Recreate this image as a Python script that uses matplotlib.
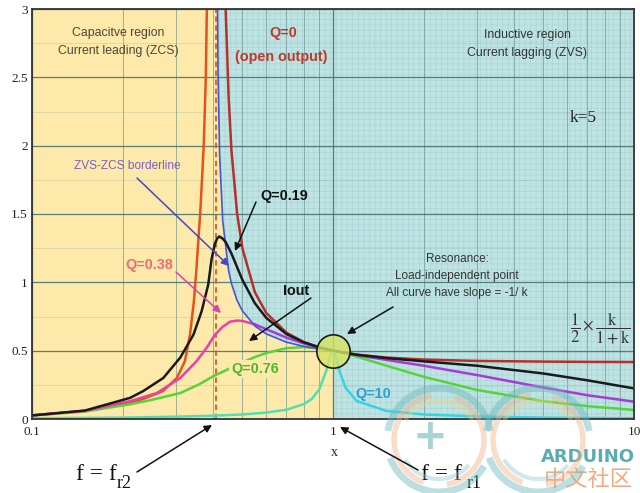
import numpy as np
import matplotlib
matplotlib.use("Agg")
import matplotlib.pyplot as plt
from matplotlib.ticker import LogLocator, MultipleLocator, NullFormatter
from matplotlib.patches import Arc

plt.rcParams['hatch.linewidth'] = 0.4
plt.rcParams['mathtext.fontset'] = 'stix'

# ---------------- data ----------------
# Q = 0 (open output): two branches around the pole at fr2
x_q0_left = [0.1, 0.15, 0.212, 0.234, 0.272, 0.303, 0.322, 0.335, 0.345, 0.352, 0.358,
             0.362, 0.372, 0.378, 0.381, 0.384]
m_q0_left = [0.027, 0.06, 0.117, 0.146, 0.204, 0.30, 0.423, 0.62, 0.861, 1.105, 1.35,
             1.5, 2.0, 2.5, 3.0, 3.3]
x_q0_right = [0.43, 0.44, 0.45, 0.46, 0.48, 0.5, 0.55, 0.6, 0.7, 0.8, 0.9, 1.0,
              1.2, 1.5, 2, 3, 5, 7, 10]
m_q0_right = [4.23, 2.996, 2.355, 1.962, 1.507, 1.25, 0.928, 0.776, 0.632, 0.563,
              0.525, 0.5, 0.471, 0.45, 0.435, 0.425, 0.42, 0.418, 0.417]

# ZVS-ZCS borderline
x_border = [0.412, 0.415, 0.42, 0.43, 0.45, 0.46, 0.48, 0.5, 0.55, 0.6, 0.7, 0.8, 0.9, 1.0]
m_border = [3.39, 2.54, 1.943, 1.454, 1.085, 0.99, 0.868, 0.791, 0.681, 0.623, 0.562,
            0.531, 0.512, 0.5]

# Q = 0.19
x_q019 = [0.1, 0.15, 0.212, 0.234, 0.273, 0.311, 0.344, 0.366, 0.385, 0.395, 0.405,
          0.412, 0.419, 0.43, 0.44, 0.46, 0.5, 0.55, 0.6, 0.7, 0.8, 0.9, 1, 1.2, 1.5,
          2, 3, 5, 7, 10]
m_q019 = [0.026, 0.062, 0.155, 0.204, 0.30, 0.45, 0.618, 0.788, 0.983, 1.17, 1.28,
          1.32, 1.336, 1.32, 1.295, 1.21, 1.018, 0.847, 0.74, 0.622, 0.561, 0.524, 0.5,
          0.47, 0.446, 0.422, 0.39, 0.333, 0.283, 0.224]

# Q = 0.38
x_q038 = [0.1, 0.15, 0.212, 0.26, 0.311, 0.352, 0.38, 0.406, 0.43, 0.455, 0.48, 0.5,
          0.55, 0.6, 0.7, 0.8, 0.9, 1, 1.2, 1.5, 2, 3, 5, 7, 10]
m_q038 = [0.026, 0.06, 0.131, 0.19, 0.30, 0.423, 0.52, 0.618, 0.675, 0.712, 0.72, 0.718,
          0.692, 0.657, 0.596, 0.553, 0.523, 0.5, 0.467, 0.433, 0.39, 0.322, 0.23,
          0.174, 0.127]

# Q = 0.76
x_q076 = [0.1, 0.15, 0.212, 0.25, 0.311, 0.36, 0.4, 0.44, 0.5, 0.55, 0.6, 0.7, 0.8,
          0.9, 1, 1.2, 1.5, 2, 3, 5, 7, 10]
m_q076 = [0.025, 0.055, 0.108, 0.14, 0.19, 0.255, 0.313, 0.356, 0.414, 0.453,
          0.483, 0.518, 0.526, 0.517, 0.5, 0.456, 0.391, 0.309, 0.213, 0.13, 0.094, 0.066]

# Q = 10
x_q10 = [0.1, 0.2, 0.3, 0.4, 0.5, 0.6, 0.7, 0.8, 0.85, 0.9, 0.95, 0.98, 1, 1.02, 1.05,
         1.1, 1.2, 1.5, 2, 3, 5, 10]
m_q10 = [0.005, 0.01, 0.017, 0.024, 0.033, 0.047, 0.068, 0.109, 0.147, 0.216, 0.353,
         0.467, 0.5, 0.462, 0.354, 0.23, 0.131, 0.06, 0.033, 0.019, 0.01, 0.005]

fr2 = 0.408          # f = f_r2 (dashed line)
resonance = (1.0, 0.5)

x_ticks = [0.1, 1, 10]
x_tick_labels = ['0.1', '1', '10']
y_ticks = [0, 0.5, 1, 1.5, 2, 2.5, 3]
y_tick_labels = ['0', '0.5', '1', '1.5', '2', '2.5', '3']

# ---------------- figure ----------------
W, H = 640, 493
fig = plt.figure(figsize=(W / 100, H / 100), dpi=100)
fig.patch.set_facecolor('white')
ax = fig.add_axes([32 / W, 1 - 419 / H, (634 - 32) / W, (419 - 9) / H])
ax.set_xscale('log')
ax.set_xlim(0.1, 10)
ax.set_ylim(0, 3)
ax.set_facecolor('#fde9a9')

# inductive region (right of the borderline) - graph-paper look
xb = np.array(x_border, dtype=float)
mb = np.array(m_border, dtype=float)
ax.fill(np.r_[xb, 1.0, 10.0, 10.0], np.r_[mb, 0.0, 0.0, 3.5],
        facecolor='#bfe3e3', edgecolor='#a6d2d3', hatch='+++', linewidth=0, zorder=0.2)

# grid
ax.set_xticks(x_ticks, x_tick_labels)
ax.set_yticks(y_ticks, y_tick_labels)
ax.xaxis.set_minor_locator(LogLocator(base=10, subs=range(2, 10)))
ax.xaxis.set_minor_formatter(NullFormatter())
ax.yaxis.set_minor_locator(MultipleLocator(0.25))
ax.grid(which='major', color='#3f6d68', lw=0.9, alpha=0.85)
ax.grid(which='minor', axis='x', color='#5f8c86', lw=0.7, alpha=0.6)
ax.grid(which='minor', axis='y', color='#7fa6a0', lw=0.5, alpha=0.35)
ax.tick_params(which='both', length=0)
ax.tick_params(axis='x', pad=5)
ax.tick_params(axis='y', pad=3)
for lab in ax.get_xticklabels() + ax.get_yticklabels():
    lab.set_fontfamily('Liberation Serif')
    lab.set_fontsize(9.5)
    lab.set_color('#222222')
for sp in ax.spines.values():
    sp.set_color('#333333')
    sp.set_linewidth(1.3)

# vertical dashed fr2 line
ax.axvline(fr2, color='#e0562c', lw=1.3, ls=(0, (3, 2)), zorder=1.8)

lw = 1.8
# Q=0
ax.plot(x_q0_left, m_q0_left, color='#e2531e', lw=lw, zorder=2)
ax.plot(x_q0_right, m_q0_right, color='#b5302a', lw=lw, zorder=2)
# Q=10
xq10 = np.array(x_q10); mq10 = np.array(m_q10)
ax.plot(xq10[xq10 <= 1], mq10[xq10 <= 1], color='#4ee0b4', lw=lw, zorder=2.1)
ax.plot(xq10[xq10 >= 1], mq10[xq10 >= 1], color='#36d3e2', lw=lw, zorder=2.1)
# Q=0.76
ax.plot(x_q076, m_q076, color='#55d43a', lw=lw, zorder=2.2)
# Q=0.38
xq38 = np.array(x_q038); mq38 = np.array(m_q038)
ax.plot(xq38[xq38 <= 0.55], mq38[xq38 <= 0.55], color='#ea40a8', lw=lw, zorder=2.3)
ax.plot(xq38[xq38 >= 0.55], mq38[xq38 >= 0.55], color='#a83ad8', lw=lw, zorder=2.3)
# borderline
ax.plot(x_border, m_border, color='#4257d6', lw=1.2, zorder=2.4)
# Q=0.19
ax.plot(x_q019, m_q019, color='#1a1a1a', lw=lw, zorder=2.5)

# resonance circle
ax.plot([resonance[0]], [resonance[1]], 'o', ms=24, mfc=(0.84, 0.89, 0.38, 0.8),
        mec='#1a1a1a', mew=1.2, zorder=5)

# ---------------- annotations (pixel positions, top-left origin) ----------------
SANS = ['Liberation Sans', 'DejaVu Sans']
SERIF = ['Liberation Serif', 'DejaVu Serif']

def txt(px, py, s, **kw):
    kw.setdefault('ha', 'center')
    kw.setdefault('va', 'center')
    kw.setdefault('family', SANS)
    fig.text(px / W, 1 - py / H, s, **kw)

def arrow(p0, p1, color='#111111', lw=1.1):
    fig.add_artist(matplotlib.patches.FancyArrowPatch(
        (p0[0] / W, 1 - p0[1] / H), (p1[0] / W, 1 - p1[1] / H),
        transform=fig.transFigure, arrowstyle='-|>', mutation_scale=11,
        color=color, lw=lw, shrinkA=0, shrinkB=0, zorder=10))

txt(118, 33, 'Capacitve region', fontsize=8.8, color='#4b4636')
txt(118, 51, 'Current leading (ZCS)', fontsize=8.8, color='#4b4636')
txt(283, 33, 'Q=0', fontsize=10.4, color='#c0392b', fontweight='bold')
txt(281, 57, '(open output)', fontsize=10.4, color='#c0392b', fontweight='bold')
txt(527, 35, 'Inductive region', fontsize=8.8, color='#333333')
txt(527, 53, 'Current lagging (ZVS)', fontsize=8.8, color='#333333')
txt(583, 118, 'k=5', fontsize=12.5, color='#222222', family=SERIF)

txt(127, 166, 'ZVS-ZCS borderline', fontsize=8.6, color='#7d5fc4')
arrow((137, 178), (229, 266), color='#4b44c8')
txt(284, 196, 'Q=0.19', fontsize=10.4, color='#111111', fontweight='bold')
arrow((256, 202), (235, 251))
txt(149, 265, 'Q=0.38', fontsize=10.4, color='#f06a78', fontweight='bold')
arrow((176, 272), (221, 313), color='#e040b0')
txt(296, 291, 'Iout', fontsize=10.4, color='#111111', fontweight='bold')
arrow((311, 298), (249, 341))
txt(255, 369, 'Q=0.76', fontsize=10.4, color='#4cb830', fontweight='bold',
    bbox=dict(boxstyle='square,pad=0.15', fc='#fde9a9', ec='none'))
txt(373, 394, 'Q=10', fontsize=10.4, color='#2a9fd8', fontweight='bold')

txt(457, 259, 'Resonance:', fontsize=8.5, color='#333333')
txt(457, 276, 'Load-independent point', fontsize=8.5, color='#333333')
txt(457, 293, 'All curve have slope = -1/ k', fontsize=8.5, color='#333333')
arrow((393, 307), (347, 334))

txt(600, 328, r'$\dfrac{1}{2}\times\dfrac{\mathrm{k}}{1+\mathrm{k}}$', fontsize=12,
    color='#333333')

txt(334, 453, 'x', fontsize=10, color='#222222', family=SERIF)

# f = f_r2 / f = f_r1
txt(96, 474, 'f = f', fontsize=17, color='#111111', family=SERIF)
txt(124, 484, 'r2', fontsize=13, color='#111111', family=SERIF)
arrow((137, 472), (212, 425))
txt(441, 474, 'f = f', fontsize=17, color='#111111', family=SERIF)
txt(474, 484, 'r1', fontsize=13, color='#111111', family=SERIF)
arrow((418, 470), (340, 427))

# watermark (logo rings and text)
def ring(cx, cy, r, t1, t2, color, w, a):
    fig.add_artist(Arc((cx, H - cy), 2 * r, 2 * r, theta1=t1, theta2=t2,
                       transform=None, color=color, lw=w, alpha=a, zorder=8))

for cx in (439, 538):
    ring(cx, 440, 52, 10, 170, '#6fb8bd', 5, 0.45)
    ring(cx, 440, 52, 200, 330, '#6fb8bd', 5, 0.45)
    ring(cx, 440, 45, 100, 250, '#f1b48a', 4, 0.45)
    ring(cx, 440, 45, 280, 70, '#f1b48a', 4, 0.45)
    ring(cx, 440, 39, 30, 150, '#f2d27e', 3, 0.4)
    ring(cx, 440, 39, 210, 320, '#8cc6c9', 3, 0.4)
txt(430, 437, '+', fontsize=30, color='#6fb8bd', fontweight='bold', alpha=0.6,
    family=['DejaVu Sans'])
txt(588, 457, 'ARDUINO', fontsize=13, color='#3d9ea6', fontweight='bold',
    family=['DejaVu Sans'], alpha=0.85)
txt(588, 479, '中文社区', fontsize=16, color='#f2a070',
    family=['Noto Sans CJK SC', 'DejaVu Sans'], alpha=0.9)

fig.savefig('out.png', dpi=100)
